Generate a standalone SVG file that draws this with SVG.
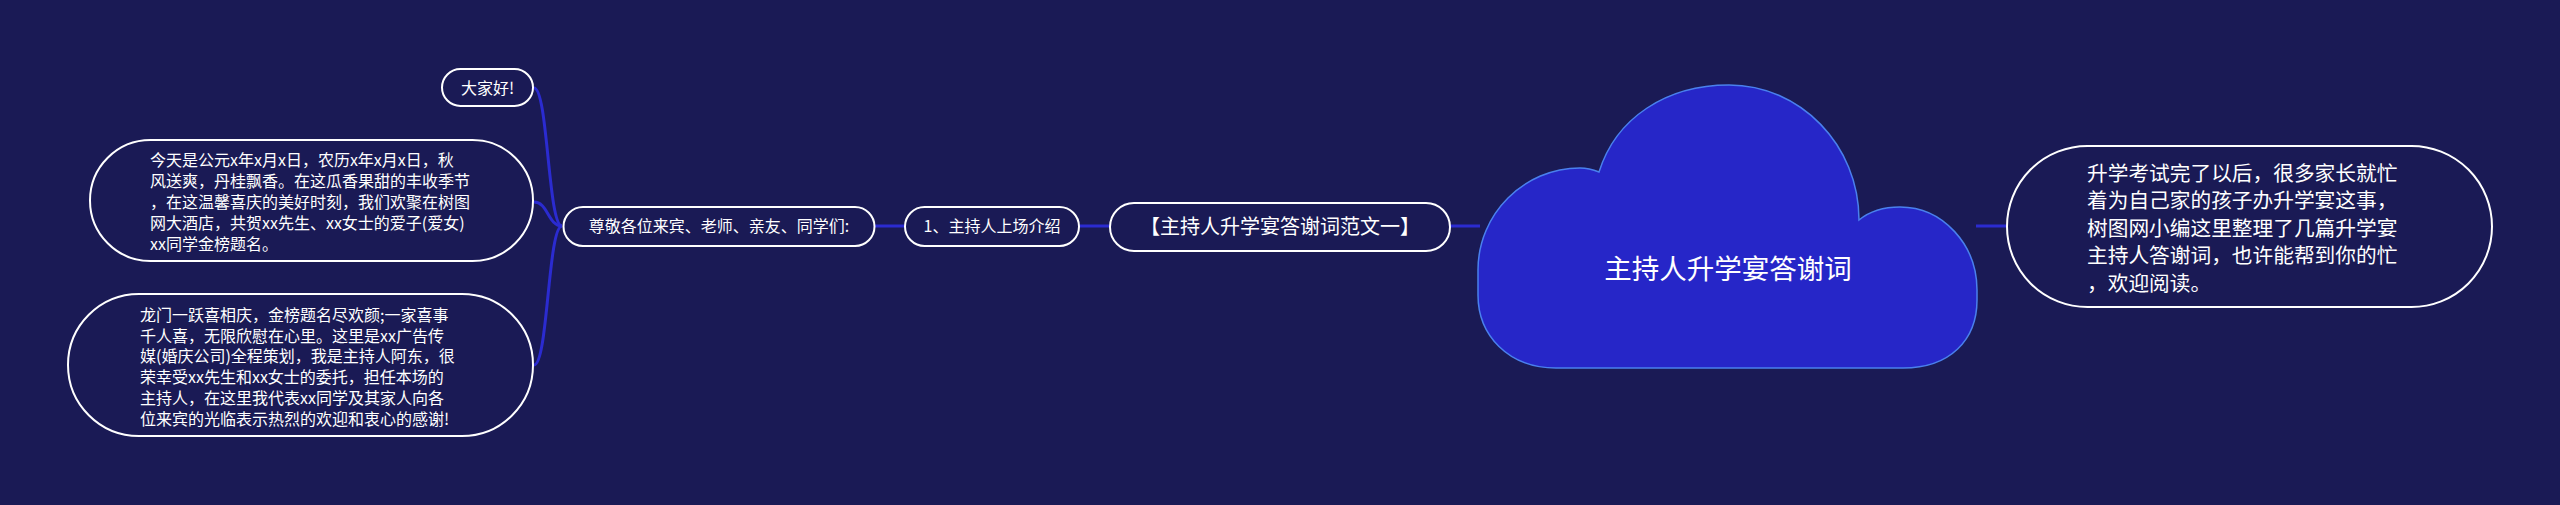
<svg xmlns="http://www.w3.org/2000/svg" width="2560" height="505" viewBox="0 0 2560 505">
<style>
.bg{fill:#1a1a55}
.node{fill:#1a1a55;stroke:#ffffff;stroke-width:2}
.conn{fill:none;stroke:#2b2bd0;stroke-width:3}
.t{font-family:"Noto Sans CJK SC","Noto Sans",sans-serif;fill:#ffffff}
.s16{font-size:16px}
.s20{font-size:20px}
.s207{font-size:20.7px}
.cloud{fill:#2626c8;stroke:#4a80ee;stroke-width:1.5}
</style>
<rect class="bg" x="0" y="0" width="2560" height="505"/>
<g id="connectors">
<path class="conn" d="M534,88 C548,88 548,226 562,226"/>
<path class="conn" d="M534,202 C548,202 548,226 562,226"/>
<path class="conn" d="M534,365 C548,365 548,226 562,226"/>
<line class="conn" x1="874" y1="226" x2="905" y2="226"/>
<line class="conn" x1="1079" y1="226" x2="1110" y2="226"/>
<line class="conn" x1="1450" y1="226" x2="1480" y2="226"/>
<line class="conn" x1="1976" y1="226" x2="2007" y2="226"/>
</g>
<g id="root">
<path class="cloud" d="M1556,368 C1508,368 1478,335 1478,295 L1478,270 C1478,214 1524,168 1580,168 C1588,168 1594,170 1599,172 C1616,118 1666,85 1729,85 C1800,85 1859,145 1859,220 C1870,211 1885,207 1900,207 C1943,207 1977,245 1977,290 L1977,300 C1977,340 1950,368 1903,368 Z"/>
<text class="t" x="1728" y="279" font-size="27.5" text-anchor="middle">主持人升学宴答谢词</text>
</g>
<g id="intro">
<rect class="node" x="2007" y="146" width="485" height="161" rx="80.5"/>
<text class="t s207" x="2087"><tspan x="2087" y="181">升学考试完了以后，很多家长就忙</tspan><tspan x="2087" y="208">着为自己家的孩子办升学宴这事，</tspan><tspan x="2087" y="236">树图网小编这里整理了几篇升学宴</tspan><tspan x="2087" y="263">主持人答谢词，也许能帮到你的忙</tspan><tspan x="2087" y="291">，欢迎阅读。</tspan></text>
</g>
<g id="fanwen">
<rect class="node" x="1110" y="203" width="340" height="48" rx="24"/>
<text class="t s20" x="1280" y="234" text-anchor="middle">【主持人升学宴答谢词范文一】</text>
</g>
<g id="step1">
<rect class="node" x="905" y="207" width="174" height="39" rx="19.5"/>
<text class="t s16" x="992" y="232" text-anchor="middle">1、主持人上场介绍</text>
</g>
<g id="greeting">
<rect class="node" x="563.5" y="207" width="311" height="39" rx="19.5"/>
<text class="t s16" x="719" y="232" text-anchor="middle">尊敬各位来宾、老师、亲友、同学们:</text>
</g>
<g id="hello">
<rect class="node" x="442" y="69" width="91" height="37" rx="18.5"/>
<text class="t s16" x="487.5" y="94" text-anchor="middle">大家好!</text>
</g>
<g id="today">
<rect class="node" x="90" y="140" width="443" height="121" rx="60.5"/>
<text class="t s16"><tspan x="150" y="166">今天是公元x年x月x日，农历x年x月x日，秋</tspan><tspan x="150" y="187">风送爽，丹桂飘香。在这瓜香果甜的丰收季节</tspan><tspan x="150" y="208">，在这温馨喜庆的美好时刻，我们欢聚在树图</tspan><tspan x="150" y="229">网大酒店，共贺xx先生、xx女士的爱子(爱女)</tspan><tspan x="150" y="250">xx同学金榜题名。</tspan></text>
</g>
<g id="longmen">
<rect class="node" x="68" y="294" width="465" height="142" rx="71"/>
<text class="t s16"><tspan x="140" y="321">龙门一跃喜相庆，金榜题名尽欢颜;一家喜事</tspan><tspan x="140" y="342">千人喜，无限欣慰在心里。这里是xx广告传</tspan><tspan x="140" y="362">媒(婚庆公司)全程策划，我是主持人阿东，很</tspan><tspan x="140" y="383">荣幸受xx先生和xx女士的委托，担任本场的</tspan><tspan x="140" y="404">主持人，在这里我代表xx同学及其家人向各</tspan><tspan x="140" y="425">位来宾的光临表示热烈的欢迎和衷心的感谢!</tspan></text>
</g>
</svg>
